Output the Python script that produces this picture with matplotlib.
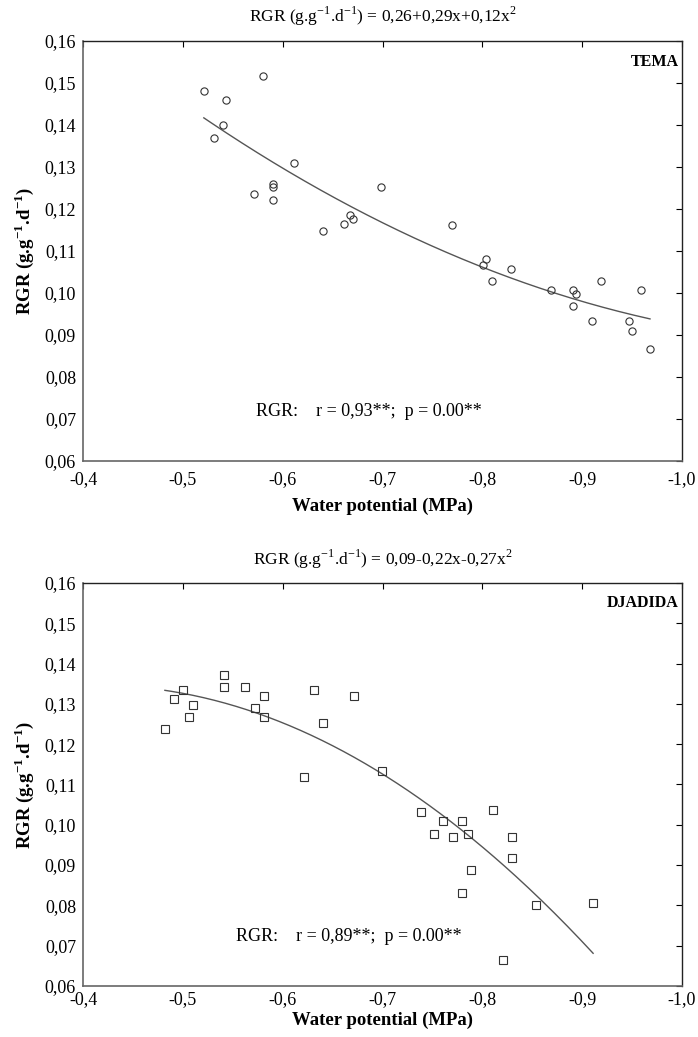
#!/usr/bin/env python3
"""
RGR versus water potential for two cultivars (TEMA and DJADIDA).
"""

import numpy as np
import matplotlib
matplotlib.use('Agg')
import matplotlib.pyplot as plt

plt.rcParams['font.family'] = ['Liberation Serif', 'DejaVu Serif']
plt.rcParams['mathtext.fontset'] = 'custom'
plt.rcParams['mathtext.rm'] = 'Liberation Serif'
plt.rcParams['mathtext.bf'] = 'Liberation Serif:bold'

# TEMA data
tema_wp = [-0.521, -0.580, -0.543, -0.540, -0.531, -0.611, -0.590, -0.590,
           -0.571, -0.590, -0.698, -0.667, -0.670, -0.661, -0.640, -0.770,
           -0.804, -0.801, -0.829, -0.810, -0.869, -0.891, -0.894, -0.891,
           -0.919, -0.959, -0.910, -0.947, -0.950, -0.968]
tema_rgr = [0.148, 0.1518, 0.1459, 0.1399, 0.137, 0.131, 0.126, 0.1252,
            0.1236, 0.1221, 0.1252, 0.1185, 0.1177, 0.1164, 0.1148, 0.1163,
            0.1081, 0.1067, 0.1058, 0.1029, 0.1007, 0.1007, 0.0998, 0.0970,
            0.1029, 0.1007, 0.0933, 0.0933, 0.0910, 0.0866]

# DJADIDA data
djad_wp = [-0.482, -0.491, -0.500, -0.510, -0.506, -0.541, -0.541, -0.562,
           -0.581, -0.572, -0.581, -0.631, -0.671, -0.640, -0.621, -0.699,
           -0.739, -0.761, -0.780, -0.811, -0.752, -0.771, -0.786, -0.830,
           -0.830, -0.789, -0.780, -0.854, -0.911, -0.821]
djad_rgr = [0.1238, 0.1313, 0.1334, 0.1297, 0.1267, 0.1371, 0.1342, 0.1342,
            0.1319, 0.1290, 0.1267, 0.1334, 0.1319, 0.1252, 0.1119, 0.1134,
            0.1031, 0.1009, 0.1009, 0.1037, 0.0978, 0.0970, 0.0978, 0.0970,
            0.0918, 0.0889, 0.0830, 0.0800, 0.0807, 0.0665]

x_ticks = [-0.4, -0.5, -0.6, -0.7, -0.8, -0.9, -1.0]
y_ticks = [0.06, 0.07, 0.08, 0.09, 0.10, 0.11, 0.12, 0.13, 0.14, 0.15, 0.16]

panels = [
    dict(name='TEMA', x=tema_wp, y=tema_rgr, marker='o', ms=5.2,
         title=r'RGR (g.g$^{-1}$.d$^{-1}$) = 0,26+0,29x+0,12x$^{2}$',
         stats='RGR:    r = 0,93**;  p = 0.00**', stats_pos=(0.477, 0.117),
         rect=[0.119, 0.5554, 0.858, 0.405], xpad=7, xlabelpad=7, tpad=14),
    dict(name='DJADIDA', x=djad_wp, y=djad_rgr, marker='s', ms=5.4,
         title=r'RGR (g.g$^{-1}$.d$^{-1}$) = 0,09-0,22x-0,27x$^{2}$',
         stats='RGR:    r = 0,89**;  p = 0.00**', stats_pos=(0.444, 0.122),
         rect=[0.119, 0.0492, 0.858, 0.3886], xpad=4, xlabelpad=2, tpad=13),
]


def fmt(v, nd):
    return f'{v:.{nd}f}'.replace('.', ',')


def draw_panel(fig, p):
    ax = fig.add_axes(p['rect'])
    x = np.array(p['x'])
    y = np.array(p['y'])

    # quadratic fit curve
    coef = np.polyfit(x, y, 2)
    xs = np.linspace(x.min(), x.max(), 200)
    ax.plot(xs, np.polyval(coef, xs), color='#555555', linewidth=1.0)

    ax.plot(x, y, linestyle='none', marker=p['marker'], markersize=p['ms'],
            markerfacecolor='none', markeredgecolor='#333333',
            markeredgewidth=0.8)

    ax.set_xlim(-0.4, -1.0)
    ax.set_ylim(0.06, 0.16)
    ax.set_xticks(x_ticks)
    ax.set_xticklabels([fmt(v, 1) for v in x_ticks])
    ax.set_yticks(y_ticks)
    ax.set_yticklabels([fmt(v, 2) for v in y_ticks])

    # ticks only on top and right, pointing in; labels on bottom/left
    ax.tick_params(axis='x', which='both', bottom=False, top=True,
                   labelbottom=True, labeltop=False, direction='in',
                   length=4, width=0.8, labelsize=13, pad=p['xpad'])
    ax.tick_params(axis='y', which='both', left=False, right=True,
                   labelleft=True, labelright=False, direction='in',
                   length=4, width=0.8, labelsize=13, pad=5)

    for side in ['left', 'bottom']:
        ax.spines[side].set_color('#666666')
        ax.spines[side].set_linewidth(1.2)
    for side in ['top', 'right']:
        ax.spines[side].set_color('#222222')
        ax.spines[side].set_linewidth(1.0)

    ax.set_xlabel('Water potential (MPa)', fontsize=13.5, fontweight='bold',
                  labelpad=p['xlabelpad'])
    ax.set_ylabel(r'RGR (g.g$^{\mathbf{-1}}$.d$^{\mathbf{-1}}$)',
                  fontsize=13.5, fontweight='bold', labelpad=6)
    ax.set_title(p['title'], fontsize=12.5, pad=p['tpad'])

    ax.text(0.995, 0.95, p['name'], transform=ax.transAxes, ha='right',
            va='center', fontsize=11.5, fontweight='bold')
    ax.text(p['stats_pos'][0], p['stats_pos'][1], p['stats'],
            transform=ax.transAxes, ha='center', va='center', fontsize=13)
    return ax


def main():
    fig = plt.figure(figsize=(6.98, 10.37), dpi=100)
    for p in panels:
        draw_panel(fig, p)
    fig.savefig('out.png', dpi=100)
    plt.close(fig)


if __name__ == '__main__':
    main()
